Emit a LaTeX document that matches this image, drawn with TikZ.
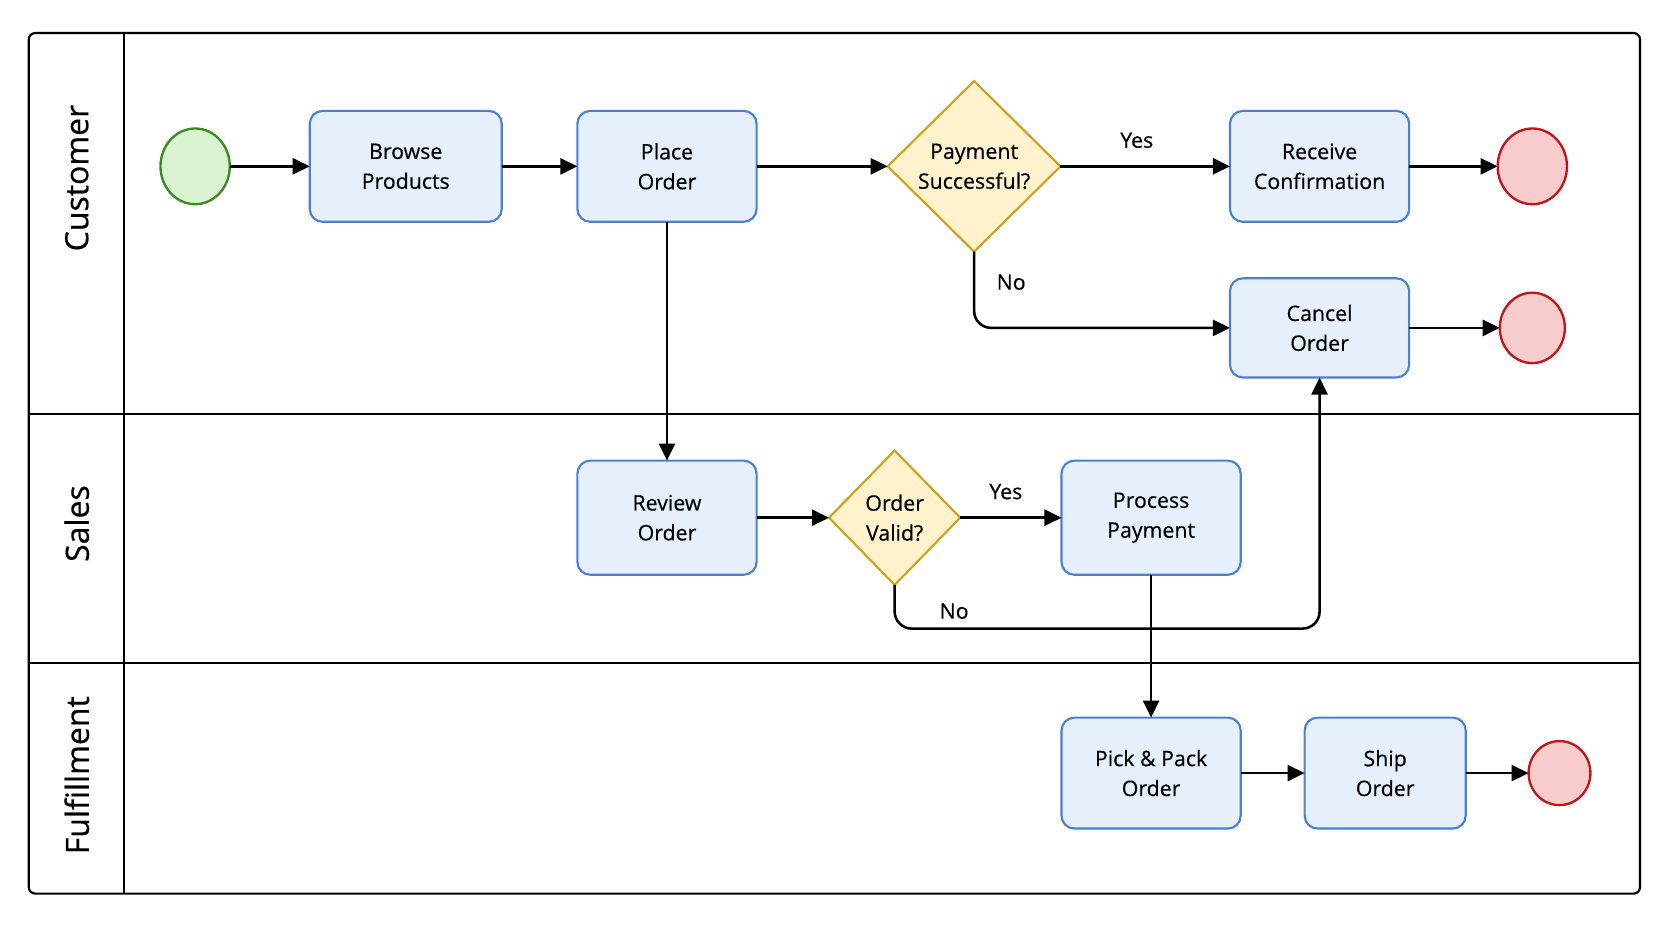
\documentclass[tikz,border=0pt]{standalone}
\usepackage{fontspec}
\setmainfont{Open Sans}[FakeBold=0.45]
\usepackage{xcolor}
\usepackage{tikz}
\usetikzlibrary{arrows.meta,positioning,shapes.geometric}

\definecolor{taskfill}{HTML}{E6F0FC}
\definecolor{taskline}{HTML}{4A7FD4}
\definecolor{gatefill}{HTML}{FFF2CC}
\definecolor{gateline}{HTML}{D19F1C}
\definecolor{startfill}{HTML}{D9F2D0}
\definecolor{startline}{HTML}{3C8A1E}
\definecolor{endfill}{HTML}{F8CCCC}
\definecolor{endline}{HTML}{C0161B}

\begin{document}
\begin{tikzpicture}[
  x=0.5pt, y=-0.5pt,
  task/.style={
    draw=taskline,
    fill=taskfill,
    line width=1pt,
    rounded corners=6pt,
    minimum width=84pt,
    minimum height=52pt,
    inner sep=2pt,
    outer sep=0pt,
    align=center,
    font=\fontsize{10}{14}\selectfont
  },
  gate/.style={
    diamond,
    draw=gateline,
    fill=gatefill,
    line width=1pt,
    inner sep=0pt,
    outer sep=0pt,
    align=center,
    font=\fontsize{10}{14}\selectfont
  },
  startev/.style={
    ellipse,
    draw=startline,
    fill=startfill,
    line width=1.1pt,
    outer sep=0pt,
    minimum width=32.5pt,
    minimum height=35.5pt
  },
  endev/.style={
    ellipse,
    draw=endline,
    fill=endfill,
    line width=1.1pt,
    inner sep=0pt,
    outer sep=0pt,
    minimum width=32.5pt,
    minimum height=35.5pt
  },
  lanefrm/.style={line width=1pt},
  lane/.style={rotate=90, font=\fontsize{15}{18}\selectfont},
  answer/.style={font=\fontsize{10}{12}\selectfont, inner sep=0pt},
  arrow/.style={-{Triangle[length=8pt,width=7.5pt]}, line width=1.2pt}
]
\useasboundingbox (0,0) rectangle (1568,882);

% pool and lanes
\draw[lanefrm, rounded corners=3pt] (27,31) rectangle (1538,838);
\draw[lanefrm] (116,31) -- (116,838);
\draw[lanefrm] (27,388) -- (1538,388);
\draw[lanefrm] (27,622) -- (1538,622);
\node[lane] (custlane) at (72,167) {Customer};
\node[lane] (saleslane) at (72,491) {Sales};
\node[lane] (fulflane) at (72,727) {Fulfillment};

% customer
\node[startev] (start) at (183,156) {};
\node[task, right=37.5pt of start, minimum width=90pt] (browse) {Browse\\Products};
\node[task, right=35.5pt of browse] (place) {Place\\Order};
\node[gate, right=61.5pt of place, minimum width=81pt, minimum height=80pt] (paid) {Payment\\Successful?};
\node[task, right=79.5pt of paid] (receive) {Receive\\Confirmation};
\node[endev, right=41.5pt of receive] (endok) {};
\node[task, below=26.5pt of receive, minimum height=46.5pt] (cancel) {Cancel\\Order};
\node[endev, right=42.5pt of cancel, minimum width=30.5pt, minimum height=33pt] (endcancel) {};

% sales
\node[task, below=112pt of place, minimum height=53.5pt] (review) {Review\\Order};
\node[gate, right=34pt of review, minimum width=61.5pt, minimum height=63pt] (valid) {Order\\Valid?};
\node[task, right=47.5pt of valid, minimum height=53.5pt] (process) {Process\\Payment};

% fulfillment
\node[task, below=67pt of process] (pick) {Pick \& Pack\\Order};
\node[task, right=30pt of pick, minimum width=75.5pt] (ship) {Ship\\Order};
\node[endev, right=29.5pt of ship, minimum width=29pt, minimum height=30pt] (endship) {};

% flows
\draw[arrow] (start) -- (browse);
\draw[arrow] (browse) -- (place);
\draw[arrow] (place) -- (paid);
\draw[arrow] (paid) -- node[answer, above=8pt, pos=0.45] {Yes} (receive);
\draw[arrow] (receive) -- (endok);
\draw[arrow, rounded corners=8pt] (paid.south) |- node[answer, pos=0.2, right=10pt] {No} (cancel);
\draw[arrow] (cancel) -- (endcancel);
\draw[arrow] (place) -- (review);
\draw[arrow] (review) -- (valid);
\draw[arrow] (valid) -- node[answer, above=8pt, pos=0.45] {Yes} (process);
\draw[arrow, rounded corners=8pt] (valid.south) -- ++(0,41) -| node[answer, pos=0.07, above=4pt] {No} (cancel.south);
\draw[arrow] (process) -- (pick);
\draw[arrow] (pick) -- (ship);
\draw[arrow] (ship) -- (endship);
\end{tikzpicture}
\end{document}
